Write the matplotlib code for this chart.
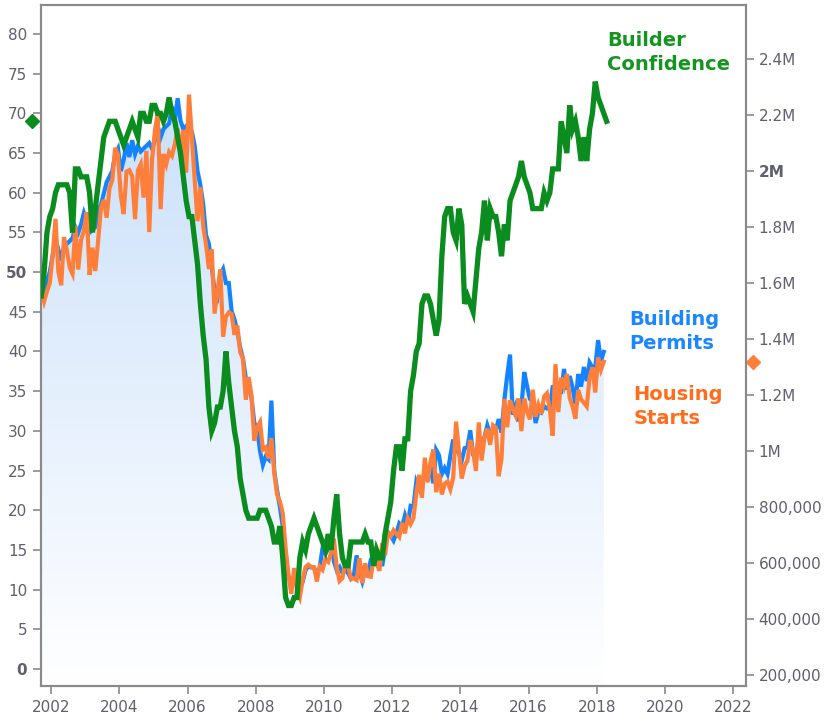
import numpy as np
import matplotlib.pyplot as plt
from matplotlib import transforms

# monthly series, first value = Sep 2001
start_year, start_month = 2001, 9

# NAHB builder confidence (left axis)
confidence = [
    47, 50, 55, 57,                                      # 2001
    58, 60, 61, 61, 61, 61, 60, 55, 63, 63, 62, 62,      # 2002
    62, 60, 55, 58, 61, 64, 67, 68, 69, 69, 69, 68,      # 2003
    67, 66, 67, 68, 69, 68, 67, 70, 70, 69, 69, 71,      # 2004
    71, 70, 70, 69, 70, 72, 70, 69, 67, 65, 62, 59,      # 2005
    57, 57, 54, 51, 46, 42, 39, 33, 30, 31, 33, 33,      # 2006
    35, 40, 36, 33, 30, 28, 24, 22, 20, 19, 19, 19,      # 2007
    19, 20, 20, 20, 19, 18, 16, 16, 18, 14, 9, 8,        # 2008
    8, 9, 9, 14, 16, 15, 17, 18, 19, 18, 17, 16,         # 2009
    15, 17, 15, 19, 22, 17, 14, 13, 13, 16, 16, 16,      # 2010
    16, 16, 17, 16, 16, 13, 15, 14, 14, 17, 19, 21,      # 2011
    25, 28, 28, 25, 29, 29, 35, 37, 40, 41, 46, 47,      # 2012
    47, 46, 44, 42, 44, 52, 57, 58, 58, 55, 54, 58,      # 2013
    56, 46, 47, 46, 45, 49, 53, 55, 59, 54, 58, 57,      # 2014
    57, 55, 52, 56, 54, 59, 60, 61, 62, 64, 62, 61,      # 2015
    60, 58, 58, 58, 58, 60, 59, 60, 63, 63, 63, 69,      # 2016
    67, 65, 71, 68, 69, 67, 64, 67, 64, 68, 70, 74,      # 2017
    72, 71, 70, 69,                                      # 2018
]

# building permits, SAAR (right axis)
permits = [
    1560, 1550, 1610, 1640,
    1700, 1760, 1720, 1680, 1730, 1740, 1750, 1760, 1800, 1780, 1810, 1850,
    1820, 1780, 1790, 1800, 1860, 1880, 1920, 1960, 1980, 2000, 2060, 2080,
    2000, 2040, 2100, 2050, 2110, 2060, 2090, 2070, 2080, 2090, 2100, 2080,
    2110, 2160, 2120, 2150, 2160, 2170, 2230, 2180, 2260, 2180, 2150, 2160,
    2150, 2140, 2090, 2000, 1950, 1880, 1770, 1740, 1660, 1570, 1550, 1630,
    1650, 1600, 1600, 1500, 1470, 1430, 1370, 1330, 1260, 1230, 1190, 1100,
    1080, 1000, 950, 980, 970, 1180, 930, 860, 800, 730, 630, 550,
    531, 547, 520, 508, 533, 574, 590, 584, 584, 559, 584, 653,
    633, 650, 687, 606, 574, 586, 565, 574, 564, 544, 555, 627,
    568, 534, 574, 563, 612, 627, 601, 625, 589, 653, 710, 697,
    680, 707, 741, 729, 770, 738, 804, 801, 890, 866, 903, 909,
    913, 939, 885, 1004, 985, 918, 939, 918, 984, 1041, 1008, 991,
    966, 1010, 1013, 1074, 987, 972, 1052, 1021, 1050, 1092, 1061, 1066,
    1074, 1114, 1066, 1183, 1270, 1344, 1130, 1161, 1106, 1157, 1282, 1232,
    1186, 1178, 1100, 1142, 1137, 1160, 1152, 1154, 1229, 1232, 1209, 1210,
    1293, 1219, 1268, 1228, 1168, 1275, 1230, 1300, 1250, 1316, 1298, 1300,
    1396, 1321, 1354,
]

# housing starts, SAAR (right axis)
starts = [
    1575, 1534, 1570, 1600,
    1698, 1829, 1642, 1592, 1764, 1717, 1655, 1633, 1804, 1648, 1753, 1788,
    1853, 1629, 1726, 1643, 1751, 1867, 1897, 1833, 1939, 1967, 2083, 2057,
    1911, 1846, 1998, 2003, 1981, 1828, 2002, 2024, 1905, 2072, 1782, 2042,
    2144, 2207, 1864, 2061, 2025, 2068, 2054, 2095, 2151, 2065, 2147, 1994,
    2273, 2119, 1969, 1821, 1942, 1802, 1737, 1650, 1720, 1491, 1570, 1649,
    1409, 1480, 1495, 1490, 1415, 1448, 1354, 1330, 1183, 1264, 1197, 1037,
    1084, 1103, 1005, 1013, 973, 1046, 923, 844, 820, 777, 652, 560,
    490, 582, 505, 478, 540, 585, 594, 586, 585, 534, 588, 576,
    614, 604, 636, 687, 583, 536, 546, 599, 594, 543, 545, 539,
    617, 528, 599, 553, 551, 615, 605, 572, 670, 628, 707, 696,
    717, 705, 693, 743, 706, 760, 739, 760, 847, 915, 833, 976,
    888, 962, 1005, 853, 919, 845, 883, 891, 863, 905, 1105, 1003,
    902, 947, 965, 1039, 1000, 929, 1102, 966, 1047, 1080, 1022, 1092,
    1083, 910, 972, 1186, 1085, 1181, 1150, 1126, 1188, 1071, 1187, 1141,
    1113, 1219, 1122, 1165, 1133, 1195, 1206, 1149, 1055, 1310, 1139, 1262,
    1231, 1275, 1189, 1160, 1115, 1218, 1185, 1172, 1159, 1261, 1299, 1209,
    1334, 1290, 1319,
]

left_ticks = list(range(0, 85, 5))
right_ticks = [200000, 400000, 600000, 800000, 1000000, 1200000, 1400000,
               1600000, 1800000, 2000000, 2200000, 2400000]
right_labels = ['200,000', '400,000', '600,000', '800,000', '1M', '1.2M',
                '1.4M', '1.6M', '1.8M', '2M', '2.2M', '2.4M']
year_ticks = list(range(2002, 2024, 2))

GREEN = '#0a8c1e'
BLUE = '#1483ff'
ORANGE = '#ff7f3a'
GRAY = '#8a8a8a'
TICKC = '#5f5f6f'

plt.rcParams['font.family'] = ['DejaVu Sans']


def month_mid(n):
    # middle of each month as decimal year
    return start_year + (start_month - 1) / 12 + (np.arange(n) + 0.5) / 12


conf = np.array(confidence)
perm = np.array(permits) * 1000.0
strt = np.array(starts) * 1000.0
t_conf = month_mid(len(conf))
t_perm = month_mid(len(perm))
t_strt = month_mid(len(strt))

fig = plt.figure(figsize=(8.25, 7.21), dpi=100)
ax = fig.add_axes([41 / 825, 1 - 686 / 721, 705 / 825, 681 / 721])
ax2 = ax.twinx()

xlim = (2001.7, 2022.38)
rlim = (160700, 2593000)
llim = (-2.14, 83.65)

# gradient fill under building permits
clip = ax.fill_between(t_perm, perm, rlim[0], facecolor='none',
                       edgecolor='none')
top_c = np.array([0.76, 0.86, 0.98])
bot_c = np.array([1.0, 1.0, 1.0])
g = np.linspace(0, 1, 256)[:, None]
rgb = bot_c + (top_c - bot_c) * g
img = np.repeat(rgb[:, None, :], 2, axis=1)
im = ax.imshow(img, extent=[xlim[0], xlim[1], rlim[0], rlim[1]],
               origin='lower', aspect='auto', interpolation='bilinear',
               zorder=1)
im.set_clip_path(clip.get_paths()[0], ax.transData)

ax.plot(t_perm, perm, color=BLUE, lw=3.0, zorder=3,
        solid_joinstyle='miter')
ax.plot(t_strt, strt, color=ORANGE, lw=3.0, zorder=4,
        solid_joinstyle='miter')
ax2.plot(t_conf, conf, color=GREEN, lw=3.8, zorder=5,
         solid_joinstyle='miter')

ax.set_xlim(*xlim)
ax.set_ylim(*rlim)
ax2.set_ylim(*llim)

# right side scale for permits / starts, left for confidence
ax.yaxis.tick_right()
ax2.yaxis.tick_left()
ax.set_yticks(right_ticks)
ax.set_yticklabels(right_labels)
ax2.set_yticks(left_ticks)
ax2.set_yticklabels([str(v) for v in left_ticks])
ax.set_xticks(year_ticks)
ax.set_xticklabels([str(y) for y in year_ticks])

for a in (ax, ax2):
    for s in a.spines.values():
        s.set_color(GRAY)
        s.set_linewidth(1.5)
    a.tick_params(colors=GRAY, labelcolor=TICKC, labelsize=11,
                  length=6, width=1.2)
ax.tick_params(axis='y', pad=3)
ax2.tick_params(axis='y', pad=4)
ax.tick_params(axis='x', pad=4)

for lab in ax2.get_yticklabels():
    if lab.get_text() in ('0', '50'):
        lab.set_fontweight('bold')
for lab in ax.get_yticklabels():
    if lab.get_text() == '2M':
        lab.set_fontweight('bold')

# last-value markers on the axes
tl = transforms.blended_transform_factory(ax2.transAxes, ax2.transData)
ax2.plot([-0.0128], [conf[-1]], marker='D', ms=7, color=GREEN,
         transform=tl, clip_on=False, zorder=6)
tr = transforms.blended_transform_factory(ax.transAxes, ax.transData)
ax.plot([1.0099], [strt[-1]], marker='D', ms=7, color=ORANGE,
        transform=tr, clip_on=False, zorder=6)

ax2.text(0.803, 0.962, 'Builder\nConfidence', transform=ax2.transAxes,
         color='#13951f', fontsize=14, fontweight='bold', va='top',
         ha='left', linespacing=1.35)
ax2.text(0.835, 0.552, 'Building\nPermits', transform=ax2.transAxes,
         color='#1a86ff', fontsize=14, fontweight='bold', va='top',
         ha='left', linespacing=1.35)
ax2.text(0.840, 0.442, 'Housing\nStarts', transform=ax2.transAxes,
         color='#ff6d1c', fontsize=14, fontweight='bold', va='top',
         ha='left', linespacing=1.35)

plt.savefig('out.png', dpi=100)
